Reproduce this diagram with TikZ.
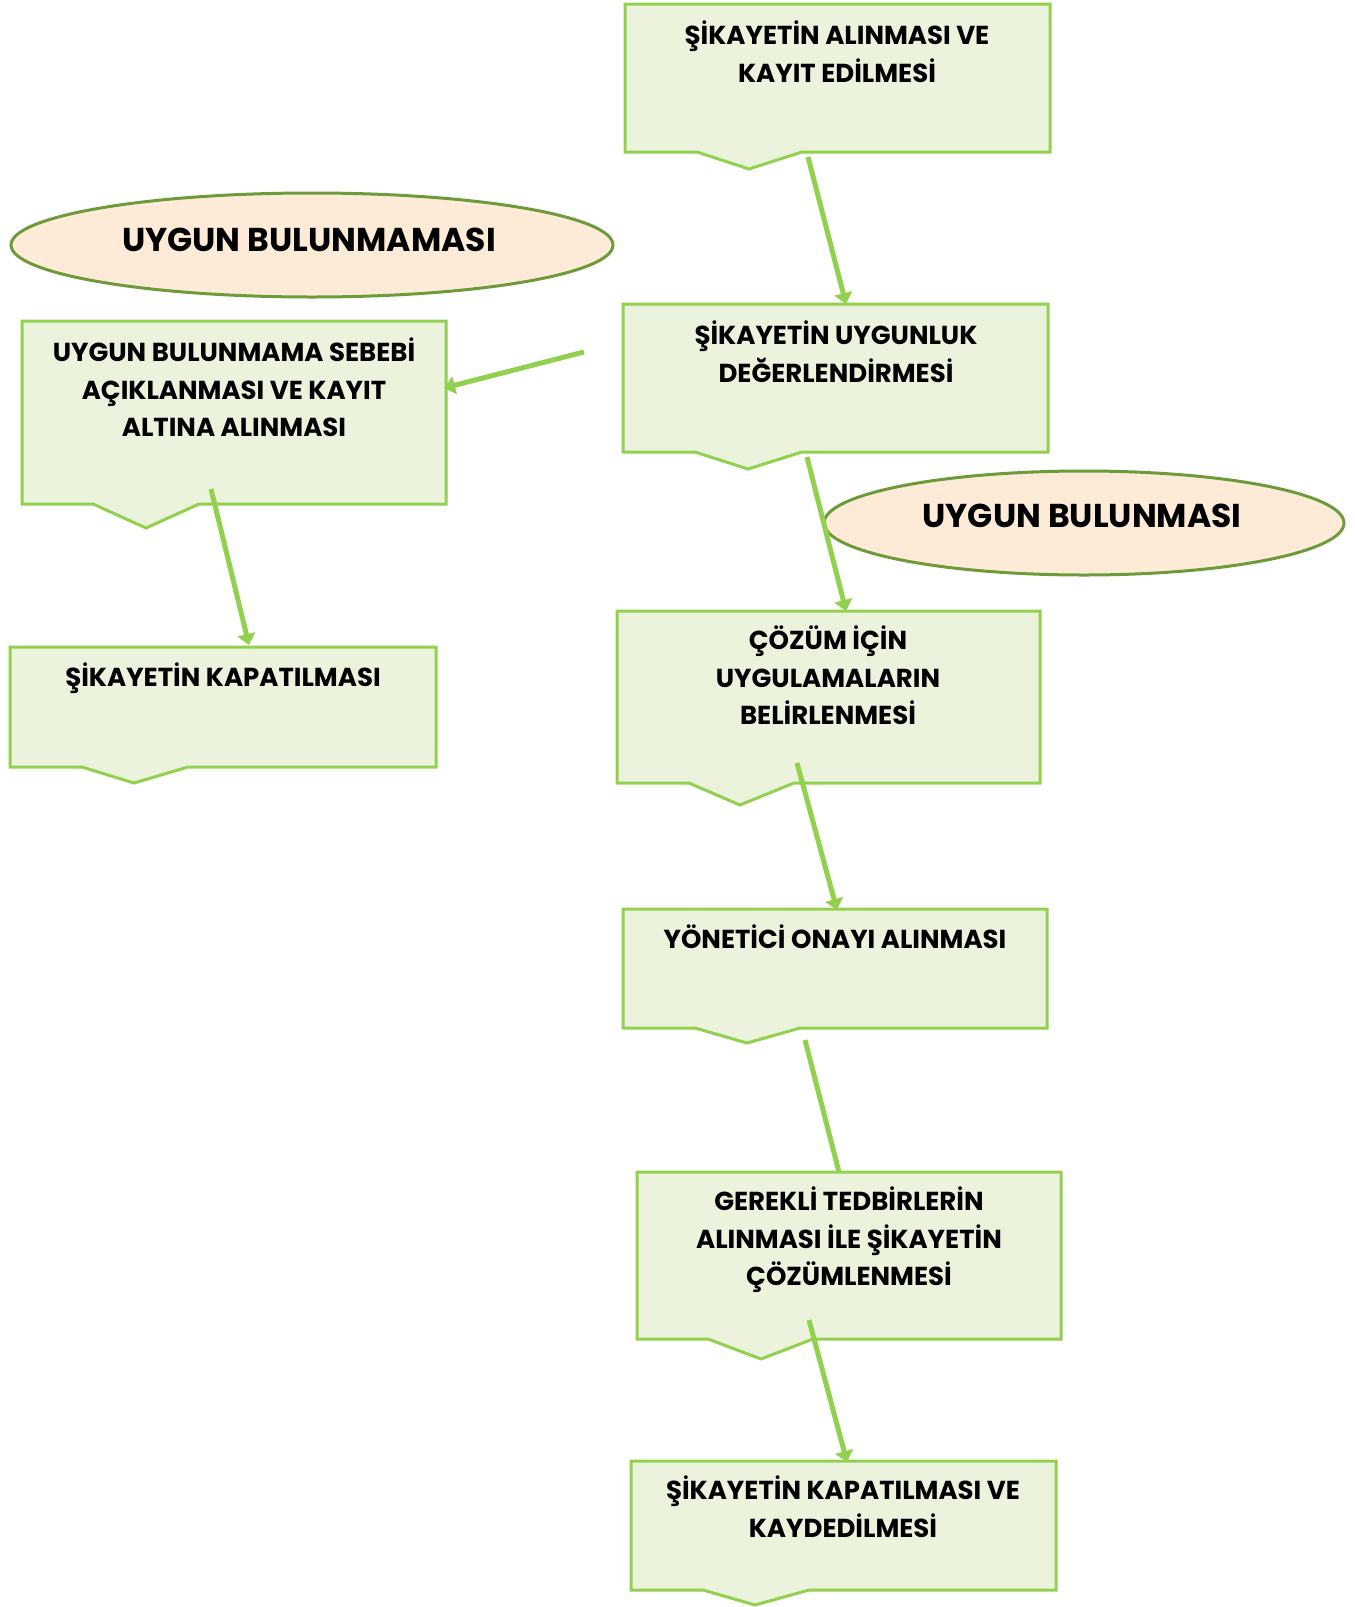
\documentclass[tikz,border=0pt]{standalone}
\usepackage{fontspec}
\setmainfont{Poppins}
\usetikzlibrary{arrows.meta,shapes.geometric}
\definecolor{boxfill}{HTML}{EBF3DC}
\definecolor{boxline}{HTML}{92D050}
\definecolor{ellfill}{HTML}{FDEBD8}
\definecolor{ellline}{HTML}{6E9B3A}
\tikzset{
  boxst/.style={fill=boxfill,draw=boxline,line width=3pt,line join=miter},
  ellst/.style={fill=ellfill,draw=ellline,line width=3pt},
  txt/.style={anchor=north,align=center,inner sep=0pt,font=\fontsize{26}{37.5}\selectfont\bfseries},
  etxt/.style={inner sep=0pt,font=\fontsize{33}{38}\selectfont\bfseries},
  conn/.style={draw=boxline,line width=5pt},
  arr/.style={conn,-{Triangle[length=11pt,width=18pt]}}
}
\begin{document}
\begin{tikzpicture}[x=1pt,y=-1pt]
\useasboundingbox (0,0) rectangle (1355,1607);
% Ellipses
\node[ellst,ellipse,minimum width=602pt,minimum height=104pt,inner sep=0pt] (e1) at (312,245) {};
\node[etxt] (e1t) at (309,240) {UYGUN BULUNMAMASI};
% Box 1
\path[boxst] (625,4) -- (1050,4) -- (1050,152) -- (802,152) -- (749,169) -- (697,152) -- (625,152) -- cycle;
\node[txt] (b1) at (837,21) {ŞİKAYETİN ALINMASI VE\\KAYIT EDİLMESİ};
% Box 2
\path[boxst] (623,304) -- (1048,304) -- (1048,452) -- (802,452) -- (748,469) -- (695,452) -- (623,452) -- cycle;
\node[txt] (b2) at (836,321) {ŞİKAYETİN UYGUNLUK\\DEĞERLENDİRMESİ};
% Box 3
\path[boxst] (22,321) -- (446,321) -- (446,504) -- (199,504) -- (146,528) -- (93,504) -- (22,504) -- cycle;
\node[txt] (b3) at (234,338) {UYGUN BULUNMAMA SEBEBİ\\AÇIKLANMASI VE KAYIT\\ALTINA ALINMASI};
% Box 4
\path[boxst] (10,647) -- (436,647) -- (436,767) -- (188,767) -- (134,783) -- (82,767) -- (10,767) -- cycle;
\node[txt] (b4) at (223,663) {ŞİKAYETİN KAPATILMASI};
% Ellipse 2
\node[ellst,ellipse,minimum width=520pt,minimum height=104pt,inner sep=0pt] (e2) at (1084,523) {};
\node[etxt] (e2t) at (1082,516) {UYGUN BULUNMASI};
% Box 5
\path[boxst] (617,611) -- (1040,611) -- (1040,783) -- (794,783) -- (740,805) -- (689,783) -- (617,783) -- cycle;
\node[txt] (b5) at (828,626) {ÇÖZÜM İÇİN\\UYGULAMALARIN\\BELİRLENMESİ};
% Box 6
\path[boxst] (623,909) -- (1047,909) -- (1047,1028) -- (800,1028) -- (747,1043) -- (695,1028) -- (623,1028) -- cycle;
\node[txt] (b6) at (835,925) {YÖNETİCİ ONAYI ALINMASI};
% Box 7
\path[boxst] (637,1172) -- (1061,1172) -- (1061,1339) -- (813,1339) -- (761,1359) -- (708,1339) -- (637,1339) -- cycle;
\node[txt] (b7) at (849,1187) {GEREKLİ TEDBİRLERİN\\ALINMASI İLE ŞİKAYETİN\\ÇÖZÜMLENMESİ};
% Box 8
\path[boxst] (631,1461) -- (1056,1461) -- (1056,1590) -- (809,1590) -- (755,1605) -- (703,1590) -- (631,1590) -- cycle;
\node[txt] (b8) at (843,1476) {ŞİKAYETİN KAPATILMASI VE\\KAYDEDİLMESİ};
% Connector ends
\coordinate (a1s) at (808,157); \coordinate (a1e) at (846,304);
\coordinate (a2s) at (584,352); \coordinate (a2e) at (444,388);
\coordinate (a3s) at (211,489); \coordinate (a3e) at (249,645);
\coordinate (a4s) at (807,457); \coordinate (a4e) at (846,611);
\coordinate (a5s) at (797,763); \coordinate (a5e) at (837,910);
\coordinate (a6s) at (805,1040); \coordinate (a6e) at (839,1172);
\coordinate (a7s) at (809,1320); \coordinate (a7e) at (847,1462);
% Connectors
\draw[arr] (a1s) -- (a1e);
\draw[arr] (a2s) -- (a2e);
\draw[arr] (a3s) -- (a3e);
\draw[arr] (a4s) -- (a4e);
\draw[arr] (a5s) -- (a5e);
\draw[conn] (a6s) -- (a6e);
\draw[arr] (a7s) -- (a7e);
\end{tikzpicture}
\end{document}
